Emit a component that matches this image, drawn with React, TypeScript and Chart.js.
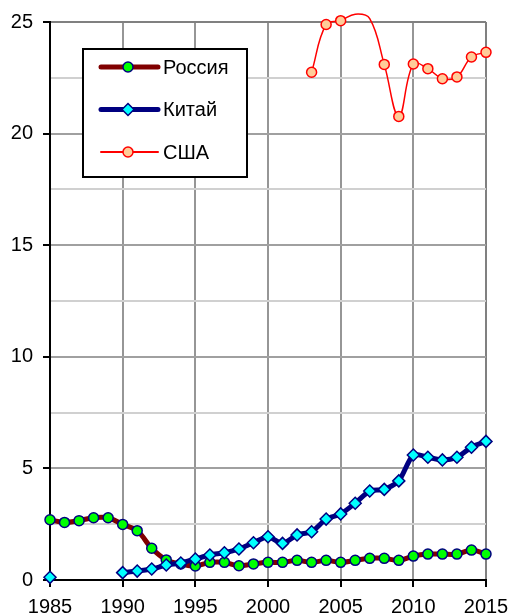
import React, { useEffect, useRef } from "react";
import { Chart, registerables } from "chart.js";

Chart.register(...registerables);

const years = [
  1985, 1986, 1987, 1988, 1989, 1990, 1991, 1992, 1993, 1994,
  1995, 1996, 1997, 1998, 1999, 2000, 2001, 2002, 2003, 2004,
  2005, 2006, 2007, 2008, 2009, 2010, 2011, 2012, 2013, 2014, 2015,
];

const russia = [
  2.7, 2.58, 2.66, 2.79, 2.79, 2.49, 2.21, 1.42, 0.9, 0.72,
  0.63, 0.79, 0.79, 0.64, 0.72, 0.79, 0.79, 0.88, 0.79, 0.88,
  0.79, 0.88, 0.97, 0.97, 0.88, 1.07, 1.16, 1.16, 1.16, 1.34, 1.16,
];

const china = [
  0.12, null, null, null, null, 0.33, 0.4, 0.49, 0.67, 0.76,
  0.94, 1.12, 1.22, 1.39, 1.67, 1.94, 1.64, 2.02, 2.16, 2.73,
  2.96, 3.44, 3.99, 4.06, 4.44, 5.6, 5.5, 5.38, 5.5, 5.95, 6.21,
];

const usa = [
  null, null, null, null, null, null, null, null, null, null,
  null, null, null, null, null, null, null, null, 22.75, 24.89,
  25.06, 25.35, 25.15, 23.1, 20.77, 23.12, 22.91, 22.46, 22.54, 23.43, 23.64,
];

const seriesNames = ["Россия", "Китай", "США"];

const FONT = "'Liberation Sans', Arial, sans-serif";

const toPoints = (vals: (number | null)[]) =>
  years.map((y, i) => ({ x: y, y: vals[i] }));

const legendPlugin = {
  id: "boxLegend",
  afterDraw(chart: any) {
    const { ctx, chartArea } = chart;
    const left = chartArea.left + 33;
    const top = chartArea.top + 27;
    const w = 164;
    const h = 128;
    ctx.save();
    ctx.fillStyle = "#ffffff";
    ctx.fillRect(left, top, w, h);
    ctx.strokeStyle = "#000000";
    ctx.lineWidth = 2;
    ctx.strokeRect(left, top, w, h);
    const legendLineW = [5, 5, 2];
    chart.data.datasets.forEach((ds: any, i: number) => {
      const y = top + 18 + i * 42.5;
      ctx.strokeStyle = ds.borderColor;
      ctx.lineWidth = legendLineW[i];
      ctx.lineCap = "round";
      ctx.beginPath();
      ctx.moveTo(left + 18, y);
      ctx.lineTo(left + 75, y);
      ctx.stroke();
      const mx = left + 45;
      ctx.fillStyle = ds.pointBackgroundColor;
      ctx.strokeStyle = ds.pointBorderColor;
      ctx.lineWidth = ds.pointBorderWidth;
      ctx.beginPath();
      if (ds.pointStyle === "rectRot") {
        const r = 6;
        ctx.moveTo(mx - r, y);
        ctx.lineTo(mx, y - r);
        ctx.lineTo(mx + r, y);
        ctx.lineTo(mx, y + r);
        ctx.closePath();
      } else {
        ctx.arc(mx, y, 5, 0, Math.PI * 2);
      }
      ctx.fill();
      ctx.stroke();
      ctx.fillStyle = "#000000";
      ctx.font = `20px ${FONT}`;
      ctx.textBaseline = "middle";
      ctx.textAlign = "left";
      ctx.fillText(ds.label, left + 80, y + 1);
    });
    ctx.restore();
  },
};

export default function App() {
  const ref = useRef<HTMLCanvasElement | null>(null);

  useEffect(() => {
    if (!ref.current) return;
    const chart = new Chart(ref.current, {
      type: "line",
      data: {
        datasets: [
          {
            label: seriesNames[0],
            data: toPoints(russia),
            borderColor: "#800000",
            borderWidth: 5,
            pointBackgroundColor: "#00ff00",
            pointBorderColor: "#000080",
            pointBorderWidth: 1.5,
            pointRadius: 5,
            pointStyle: "circle",
            tension: 0.35,
            borderJoinStyle: "round",
            borderCapStyle: "round",
            clip: false,
            order: 3,
          },
          {
            label: seriesNames[1],
            data: toPoints(china),
            borderColor: "#000080",
            borderWidth: 5,
            pointBackgroundColor: "#00ffff",
            pointBorderColor: "#000080",
            pointBorderWidth: 1.5,
            pointRadius: 6,
            pointStyle: "rectRot",
            tension: 0.25,
            spanGaps: false,
            borderJoinStyle: "round",
            borderCapStyle: "round",
            clip: false,
            order: 2,
          },
          {
            label: seriesNames[2],
            data: toPoints(usa),
            borderColor: "#ff0000",
            borderWidth: 1.5,
            pointBackgroundColor: "#ffcc99",
            pointBorderColor: "#ff0000",
            pointBorderWidth: 1.5,
            pointRadius: (c: any) => (c.raw && c.raw.y > 25.1 ? 0 : 5),
            pointStyle: "circle",
            tension: 0.4,
            clip: false,
            order: 1,
          },
        ] as any,
      },
      options: {
        responsive: false,
        animation: false,
        devicePixelRatio: 1,
        layout: { padding: { top: 22, right: 26, left: 0, bottom: 0 } },
        plugins: {
          legend: { display: false },
          tooltip: { enabled: false },
        },
        scales: {
          x: {
            type: "linear",
            min: 1985,
            max: 2015,
            afterFit: (s: any) => {
              s.height = 35;
              s.paddingLeft = 0;
              s.paddingRight = 0;
            },
            ticks: {
              stepSize: 5,
              color: "#000",
              font: { family: FONT, size: 20 },
              padding: 8,
              maxRotation: 0,
              callback: (v: any) => String(v),
            },
            grid: {
              color: (c: any) =>
                c.tick && c.tick.value === 2015 ? "#808080" : "#969696",
              lineWidth: 2,
              tickLength: 7,
              tickColor: "#000",
              tickWidth: 2,
            },
            border: { color: "#000", width: 2 },
          },
          y: {
            type: "linear",
            min: 0,
            max: 25,
            afterFit: (s: any) => {
              s.width = 50;
              s.paddingTop = 0;
              s.paddingBottom = 0;
            },
            ticks: {
              stepSize: 2.5,
              color: "#000",
              font: { family: FONT, size: 20 },
              padding: 10,
              callback: (v: any) => (Number(v) % 5 === 0 ? String(v) : ""),
            },
            grid: {
              color: (c: any) => {
                const v = c.tick ? c.tick.value : 0;
                if (v === 25) return "#808080";
                return v % 5 === 0 ? "#a0a0a0" : "#d0d0d0";
              },
              lineWidth: 2,
              tickLength: 7,
              tickColor: (c: any) =>
                c.tick && c.tick.value % 5 === 0 ? "#000" : "rgba(0,0,0,0)",
              tickWidth: 2,
            },
            border: { color: "#000", width: 2 },
          },
        },
      },
      plugins: [legendPlugin],
    });
    return () => chart.destroy();
  }, []);

  return (
    <canvas
      ref={ref}
      width={512}
      height={615}
      style={{ position: "absolute", left: 0, top: 0, width: 512, height: 615, display: "block" }}
    />
  );
}
